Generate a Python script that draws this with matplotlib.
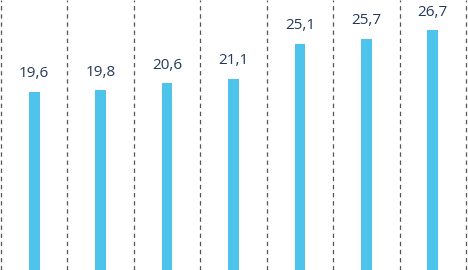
import matplotlib
matplotlib.use("Agg")
import matplotlib.pyplot as plt

# values
categories = ["1", "2", "3", "4", "5", "6", "7"]
values = [19.6, 19.8, 20.6, 21.1, 25.1, 25.7, 26.7]
labels = ["19,6", "19,8", "20,6", "21,1", "25,1", "25,7", "26,7"]

ymin, ymax = -0.8, 30.15

fig = plt.figure(figsize=(4.68, 2.70), dpi=100)
ax = fig.add_axes([0, 0, 1, 1])

x = list(range(len(categories)))
# the chart is cropped: bars run down past the lower edge
ax.bar(x, [v - ymin for v in values], bottom=ymin, width=0.16, color="#4EC3EB")

# dashed separators between categories
for k in range(len(categories) + 1):
    ax.axvline(k - 0.5, color="#555555", lw=0.9, ls=(0, (3.5, 3)))

for xi, v, lab in zip(x, values, labels):
    ax.annotate(lab, (xi, v), xytext=(0, 13), textcoords="offset points",
                ha="center", va="center", fontsize=11, color="#263A58",
                family="Open Sans")

ax.set_xlim(-0.515, 6.53)
ax.set_ylim(ymin, ymax)
ax.axis("off")

fig.savefig("out.png", dpi=100)
